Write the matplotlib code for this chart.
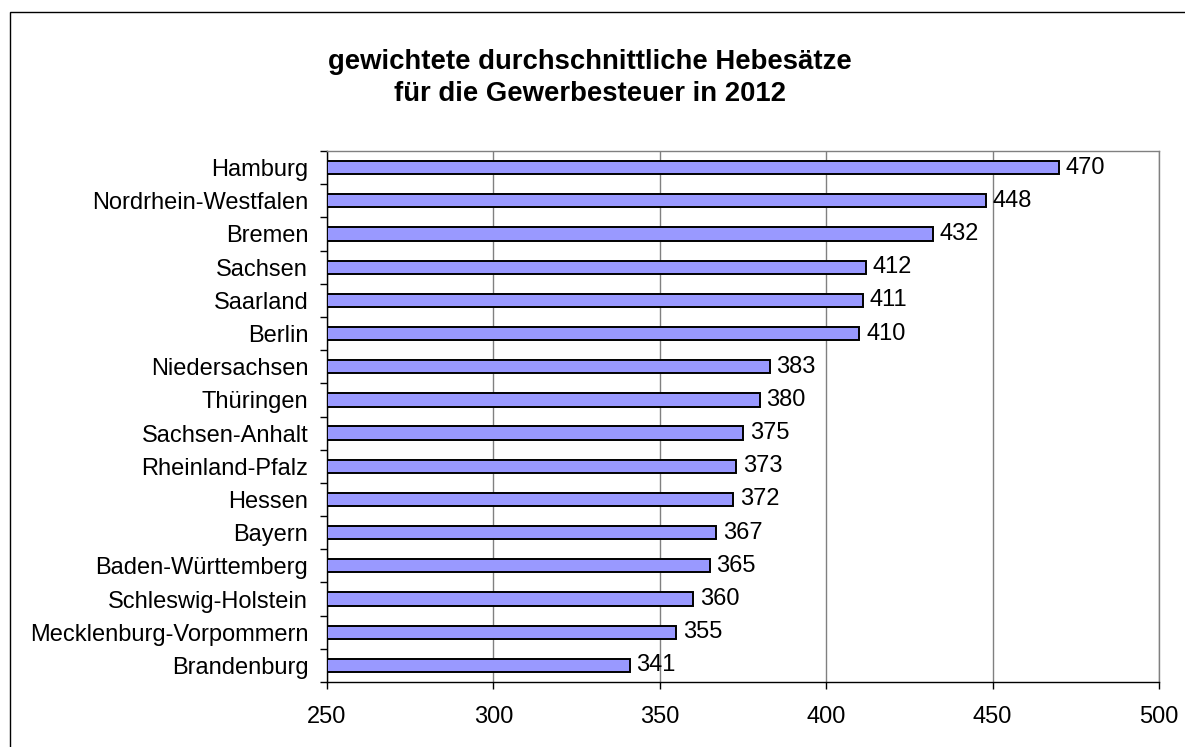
import matplotlib
matplotlib.use("Agg")
import matplotlib.pyplot as plt
import numpy as np
from matplotlib.patches import Rectangle

plt.rcParams['font.family'] = ['Liberation Sans', 'DejaVu Sans']

states = ["Hamburg", "Nordrhein-Westfalen", "Bremen", "Sachsen", "Saarland", "Berlin",
          "Niedersachsen", "Thüringen", "Sachsen-Anhalt", "Rheinland-Pfalz", "Hessen",
          "Bayern", "Baden-Württemberg", "Schleswig-Holstein", "Mecklenburg-Vorpommern",
          "Brandenburg"]
rates = [470, 448, 432, 412, 411, 410, 383, 380, 375, 373, 372, 367, 365, 360, 355, 341]
x_ticks = [250, 300, 350, 400, 450, 500]
title = "gewichtete durchschnittliche Hebesätze\nfür die Gewerbesteuer in 2012"

W, H = 1185, 747
fig = plt.figure(figsize=(W / 100, H / 100), dpi=100)
fig.patch.set_facecolor('white')

# outer chart border
fig.add_artist(Rectangle((10 / W, -0.05), 1.2, (H - 12) / H + 0.05, transform=fig.transFigure,
                         fill=False, edgecolor='black', linewidth=1.0, clip_on=False))

left, right, top, bottom = 327, 1159, 151, 682
ax = fig.add_axes([left / W, (H - bottom) / H, (right - left) / W, (bottom - top) / H])

n = len(states)
ypos = np.arange(n)[::-1]
base = x_ticks[0]
ax.barh(ypos, [r - base for r in rates], left=base, height=0.4, color='#9999FF',
        edgecolor='black', linewidth=1.4, zorder=3)
for y, r in zip(ypos, rates):
    ax.text(r + 2.0, y, str(r), va='center', ha='left', fontsize=17, zorder=4)

ax.set_xlim(x_ticks[0], x_ticks[-1])
ax.set_ylim(-0.5, n - 0.5)
ax.set_xticks(x_ticks)
ax.set_xticklabels([str(t) for t in x_ticks], fontsize=17)
ax.tick_params(axis='x', direction='out', length=5, width=1, pad=12, colors='black')

ax.set_yticks(ypos)
ax.set_yticklabels(states, fontsize=17)
ax.tick_params(axis='y', which='major', length=0, pad=13.5)
ax.set_yticks(np.arange(-0.5, n, 1.0), minor=True)
ax.tick_params(axis='y', which='minor', direction='out', length=5, width=1)

ax.grid(axis='x', color='#808080', linewidth=1.0, zorder=0)
ax.set_axisbelow(True)
for s in ['left', 'bottom']:
    ax.spines[s].set_color('black')
    ax.spines[s].set_linewidth(1.0)
for s in ['top', 'right']:
    ax.spines[s].set_color('#808080')
    ax.spines[s].set_linewidth(1.0)

fig.text(590 / W, 1 - 78 / H, title, ha='center', va='center', fontsize=19.8,
         fontweight='bold', linespacing=1.3)

fig.savefig("out.png", dpi=100, facecolor='white')
